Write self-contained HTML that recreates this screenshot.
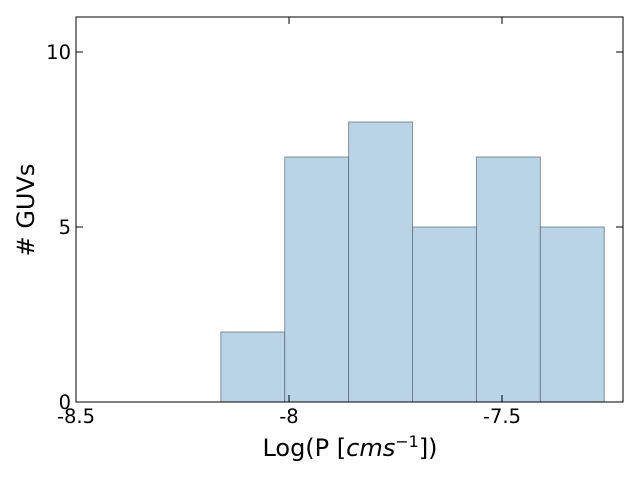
<!DOCTYPE html>
<html><head><meta charset="utf-8"><style>
body{margin:0;background:#fff;}
svg text{font-family:"DejaVu Sans","Liberation Sans",sans-serif;fill:#000;}
</style></head><body>
<svg id="chart" width="640" height="480" xmlns="http://www.w3.org/2000/svg">
<rect width="640" height="480" fill="#fff"/>
<g id="bars"></g>
<rect x="76" y="17" width="547" height="385" fill="none" stroke="#000" stroke-width="1"/>
<g id="ticks"></g>
<text x="350" y="456" font-size="24" text-anchor="middle">Log(P [<tspan font-style="italic">cms</tspan><tspan font-size="16" dy="-9">−1</tspan><tspan dy="9">])</tspan></text>
<text transform="translate(34,210) rotate(-90)" font-size="24" text-anchor="middle"># GUVs</text>
</svg>
<script>
const binStarts=[-8.16,-8.01,-7.86,-7.71,-7.56,-7.41];
const binWidth=0.15;
const counts=[2,7,8,5,7,5];
const xTicks=[-8.5,-8,-7.5];
const xTickLabels=["-8.5","-8","-7.5"];
const yTicks=[0,5,10];
const yTickLabels=["0","5","10"];
const X=v=>76+(v+8.5)*426;
const Y=v=>402-v*35;
const NS="http://www.w3.org/2000/svg";
const bars=document.getElementById('bars');
counts.forEach((c,i)=>{
 const r=document.createElementNS(NS,'rect');
 
 
 const x0=X(binStarts[i]),x1=X(binStarts[i]+binWidth);
 r.setAttribute('x',x0);r.setAttribute('y',Y(c));
 r.setAttribute('width',x1-x0);r.setAttribute('height',Y(0)-Y(c));
 r.setAttribute('fill','#bad4e7');r.setAttribute('stroke','#5a6a78');r.setAttribute('stroke-opacity','0.7');
 bars.appendChild(r);
});
const tk=document.getElementById('ticks');
xTicks.forEach((v,i)=>{
 const l=document.createElementNS(NS,'line');
 
 
 l.setAttribute('x1',X(v));l.setAttribute('x2',X(v));
 l.setAttribute('y1',402);l.setAttribute('y2',395);l.setAttribute('stroke','#000');
 tk.appendChild(l);
 const l2=l.cloneNode();l2.setAttribute('y1',17);l2.setAttribute('y2',24);
 
 tk.appendChild(l2);
 const t=document.createElementNS(NS,'text');
 
 
 t.setAttribute('x',X(v));t.setAttribute('y',423);t.setAttribute('font-size','19.5');t.setAttribute('text-anchor','middle');
 t.textContent=xTickLabels[i];tk.appendChild(t);
});
yTicks.forEach((v,i)=>{
 const l=document.createElementNS(NS,'line');
 
 
 l.setAttribute('x1',76);l.setAttribute('x2',83);
 l.setAttribute('y1',Y(v));l.setAttribute('y2',Y(v));l.setAttribute('stroke','#000');
 tk.appendChild(l);
 const l2=l.cloneNode();l2.setAttribute('x1',623);l2.setAttribute('x2',616);
 
 tk.appendChild(l2);
 const t=document.createElementNS(NS,'text');
 
 
 t.setAttribute('x',71);t.setAttribute('y',Y(v)+7);t.setAttribute('font-size','19.5');t.setAttribute('text-anchor','end');
 t.textContent=yTickLabels[i];tk.appendChild(t);
});
</script>
</body></html>
